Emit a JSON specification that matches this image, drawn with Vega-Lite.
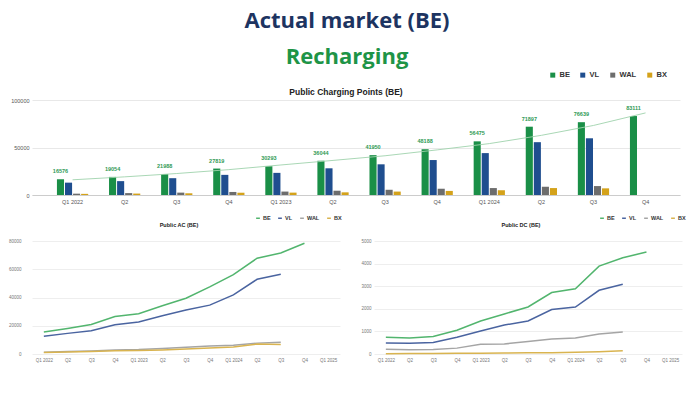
{
  "$schema": "https://vega.github.io/schema/vega-lite/v6.json",
  "background": "white",
  "padding": {"left": 8, "top": 10, "right": 10, "bottom": 4},
  "title": {
    "text": "Actual market (BE)",
    "subtitle": "Recharging",
    "font": "Open Sans",
    "fontSize": 22,
    "fontWeight": "bold",
    "color": "#1d3461",
    "subtitleFont": "Open Sans",
    "subtitleFontSize": 22,
    "subtitleFontWeight": "bold",
    "subtitleColor": "#1e9447",
    "subtitlePadding": 14,
    "anchor": "middle",
    "offset": 2
  },
  "datasets": {
    "bars": [
      {"q": "Q1 2022", "BE": 16576, "VL": 13000, "WAL": 1400, "BX": 1200},
      {"q": "Q2 2022", "BE": 19054, "VL": 14600, "WAL": 2000, "BX": 1500},
      {"q": "Q3 2022", "BE": 21988, "VL": 17700, "WAL": 2500, "BX": 1800},
      {"q": "Q4 2022", "BE": 27819, "VL": 21200, "WAL": 3200, "BX": 2400},
      {"q": "Q1 2023", "BE": 30293, "VL": 23300, "WAL": 3600, "BX": 2500},
      {"q": "Q2 2023", "BE": 36044, "VL": 28100, "WAL": 4500, "BX": 2800},
      {"q": "Q3 2023", "BE": 41950, "VL": 32300, "WAL": 5500, "BX": 3600},
      {"q": "Q4 2023", "BE": 48188, "VL": 36800, "WAL": 6600, "BX": 4300},
      {"q": "Q1 2024", "BE": 56475, "VL": 44100, "WAL": 7300, "BX": 5000},
      {"q": "Q2 2024", "BE": 71897, "VL": 55600, "WAL": 8700, "BX": 7300},
      {"q": "Q3 2024", "BE": 76639, "VL": 59700, "WAL": 9400, "BX": 7000},
      {"q": "Q4 2024", "BE": 83111}
    ],
    "trend": [
      {"q": "Q1 2022", "t": 16000},
      {"q": "Q2 2022", "t": 19100},
      {"q": "Q3 2022", "t": 22600},
      {"q": "Q4 2022", "t": 26700},
      {"q": "Q1 2023", "t": 31600},
      {"q": "Q2 2023", "t": 36400},
      {"q": "Q3 2023", "t": 41300},
      {"q": "Q4 2023", "t": 47500},
      {"q": "Q1 2024", "t": 54100},
      {"q": "Q2 2024", "t": 62800},
      {"q": "Q3 2024", "t": 73200},
      {"q": "Q4 2024", "t": 86400}
    ],
    "ac": [
      {"q": "Q1 2022", "BE": 15500, "VL": 12500, "WAL": 1200, "BX": 1100},
      {"q": "Q2 2022", "BE": 18100, "VL": 14600, "WAL": 1700, "BX": 1400},
      {"q": "Q3 2022", "BE": 20900, "VL": 16500, "WAL": 2200, "BX": 1700},
      {"q": "Q4 2022", "BE": 26600, "VL": 20700, "WAL": 2800, "BX": 2300},
      {"q": "Q1 2023", "BE": 28500, "VL": 22600, "WAL": 3100, "BX": 2500},
      {"q": "Q2 2023", "BE": 34100, "VL": 27100, "WAL": 3900, "BX": 2900},
      {"q": "Q3 2023", "BE": 39500, "VL": 31100, "WAL": 4800, "BX": 3500},
      {"q": "Q4 2023", "BE": 47500, "VL": 34600, "WAL": 5600, "BX": 4200},
      {"q": "Q1 2024", "BE": 56200, "VL": 41900, "WAL": 6200, "BX": 5000},
      {"q": "Q2 2024", "BE": 67800, "VL": 52900, "WAL": 7700, "BX": 7000},
      {"q": "Q3 2024", "BE": 71500, "VL": 56500, "WAL": 8300, "BX": 6800},
      {"q": "Q4 2024", "BE": 78400}
    ],
    "dc": [
      {"q": "Q1 2022", "BE": 740, "VL": 490, "WAL": 215, "BX": 15},
      {"q": "Q2 2022", "BE": 710, "VL": 480, "WAL": 185, "BX": 20},
      {"q": "Q3 2022", "BE": 770, "VL": 510, "WAL": 200, "BX": 25},
      {"q": "Q4 2022", "BE": 1050, "VL": 740, "WAL": 260, "BX": 30},
      {"q": "Q1 2023", "BE": 1460, "VL": 1015, "WAL": 430, "BX": 35},
      {"q": "Q2 2023", "BE": 1770, "VL": 1280, "WAL": 445, "BX": 40},
      {"q": "Q3 2023", "BE": 2080, "VL": 1460, "WAL": 550, "BX": 50},
      {"q": "Q4 2023", "BE": 2720, "VL": 1970, "WAL": 660, "BX": 60},
      {"q": "Q1 2024", "BE": 2890, "VL": 2080, "WAL": 710, "BX": 75},
      {"q": "Q2 2024", "BE": 3890, "VL": 2820, "WAL": 890, "BX": 100},
      {"q": "Q3 2024", "BE": 4260, "VL": 3090, "WAL": 970, "BX": 145},
      {"q": "Q4 2024", "BE": 4510}
    ]
  },
  "spacing": 10,
  "resolve": {"scale": {"color": "independent"}, "legend": {"color": "independent"}},
  "vconcat": [
    {
      "width": 648,
      "height": 95,
      "title": {"text": "Public Charging Points (BE)", "offset": -25, "dx": -10, "font": "Liberation Sans", "fontSize": 8.5, "fontWeight": "bold", "color": "#222222"},
      "layer": [
        {
          "data": {"name": "bars"},
          "transform": [
            {"fold": ["BE", "VL", "WAL", "BX"], "as": ["region", "value"]},
            {"filter": "isValid(datum.value)"}
          ],
          "mark": {"type": "bar"},
          "encoding": {
            "x": {"field": "q", "type": "nominal", "sort": null, "scale": {"paddingInner": 0.4, "paddingOuter": 0.42, "align": 0.57}, "title": null,
              "axis": {"labelAngle": 0, "labelFontSize": 5.5, "labelColor": "#555555", "labelPadding": 4, "ticks": false, "domainColor": "#cccccc",
                "labelExpr": "slice(datum.value, 0, 2) == 'Q1' ? datum.value : slice(datum.value, 0, 2)"}},
            "xOffset": {"field": "region", "type": "nominal", "sort": ["BE", "VL", "WAL", "BX"], "scale": {"domain": ["BE", "VL", "WAL", "BX"], "paddingInner": 0.12}},
            "y": {"field": "value", "type": "quantitative", "scale": {"domain": [0, 100000]}, "title": null,
              "axis": {"values": [0, 25000, 50000, 75000, 100000], "format": "d", "labelFontSize": 5.5, "labelColor": "#555555", "ticks": false, "domain": false, "gridColor": "#e8e8e8", "minExtent": 24, "labelPadding": 3}},
            "color": {"field": "region", "type": "nominal", "scale": {"domain": ["BE", "VL", "WAL", "BX"], "range": ["#1a8f47", "#1f4e8f", "#6d6d6d", "#d4a21a"]},
              "legend": {"orient": "none", "legendX": 517, "legendY": -29, "direction": "horizontal", "title": null, "symbolType": "square", "symbolSize": 25, "labelFontSize": 7.5, "labelFontWeight": "bold", "labelColor": "#333333", "columnPadding": 9, "labelOffset": 3}}
          }
        },
        {
          "data": {"name": "bars"},
          "mark": {"type": "text", "dy": -8, "fontSize": 5.5, "color": "#2f9a55", "fontWeight": "bold"},
          "encoding": {
            "x": {"field": "q", "type": "nominal", "sort": null},
            "xOffset": {"datum": "BE"},
            "y": {"field": "BE", "type": "quantitative"},
            "text": {"field": "BE", "type": "quantitative", "format": "d"}
          }
        },
        {
          "data": {"name": "trend"},
          "mark": {"type": "line", "color": "#9fd3ad", "strokeWidth": 0.9},
          "encoding": {
            "x": {"field": "q", "type": "nominal", "sort": null},
            "y": {"field": "t", "type": "quantitative"}
          }
        }
      ]
    },
    {
      "spacing": 17,
      "resolve": {"scale": {"color": "independent"}, "legend": {"color": "independent"}},
      "hconcat": [
        {
          "width": 308,
          "height": 113,
          "title": {"text": "Public AC (BE)", "offset": -13, "dx": -7, "font": "Liberation Sans", "fontSize": 5.5, "fontWeight": "bold", "color": "#222222"},
          "data": {"name": "ac"},
          "transform": [
            {"fold": ["BE", "VL", "WAL", "BX"], "as": ["region", "value"]},
            {"filter": "isValid(datum.value)"}
          ],
          "mark": {"type": "line", "strokeWidth": 1.5},
          "encoding": {
            "x": {"field": "q", "type": "nominal", "title": null,
              "scale": {"domain": ["Q1 2022", "Q2 2022", "Q3 2022", "Q4 2022", "Q1 2023", "Q2 2023", "Q3 2023", "Q4 2023", "Q1 2024", "Q2 2024", "Q3 2024", "Q4 2024", "Q1 2025"]},
              "axis": {"labelAngle": 0, "labelFontSize": 4.5, "labelColor": "#777777", "labelPadding": 3, "ticks": false, "domain": false,
                "labelExpr": "slice(datum.value, 0, 2) == 'Q1' ? datum.value : slice(datum.value, 0, 2)"}},
            "y": {"field": "value", "type": "quantitative", "scale": {"domain": [0, 80000]}, "title": null,
              "axis": {"values": [0, 20000, 40000, 60000, 80000], "format": "d", "labelFontSize": 4.5, "labelColor": "#777777", "ticks": false, "domain": false, "gridColor": "#eeeeee", "minExtent": 24, "labelPadding": 11}},
            "color": {"field": "region", "type": "nominal", "sort": ["BE", "VL", "WAL", "BX"], "scale": {"domain": ["BE", "VL", "WAL", "BX"], "range": ["#52b56e", "#4a64a0", "#a5a5a5", "#d9b450"]},
              "legend": {"orient": "none", "legendX": 223, "legendY": -26, "direction": "horizontal", "title": null, "symbolType": "stroke", "symbolSize": 14, "symbolStrokeWidth": 1.5, "labelFontSize": 5.5, "labelFontWeight": "bold", "labelColor": "#333333", "columnPadding": 4, "labelOffset": 2}}
          }
        },
        {
          "width": 308,
          "height": 113,
          "title": {"text": "Public DC (BE)", "offset": -13, "dx": -7, "font": "Liberation Sans", "fontSize": 5.5, "fontWeight": "bold", "color": "#222222"},
          "data": {"name": "dc"},
          "transform": [
            {"fold": ["BE", "VL", "WAL", "BX"], "as": ["region", "value"]},
            {"filter": "isValid(datum.value)"}
          ],
          "mark": {"type": "line", "strokeWidth": 1.5},
          "encoding": {
            "x": {"field": "q", "type": "nominal", "title": null,
              "scale": {"domain": ["Q1 2022", "Q2 2022", "Q3 2022", "Q4 2022", "Q1 2023", "Q2 2023", "Q3 2023", "Q4 2023", "Q1 2024", "Q2 2024", "Q3 2024", "Q4 2024", "Q1 2025"]},
              "axis": {"labelAngle": 0, "labelFontSize": 4.5, "labelColor": "#777777", "labelPadding": 3, "ticks": false, "domain": false,
                "labelExpr": "slice(datum.value, 0, 2) == 'Q1' ? datum.value : slice(datum.value, 0, 2)"}},
            "y": {"field": "value", "type": "quantitative", "scale": {"domain": [0, 5000]}, "title": null,
              "axis": {"values": [0, 1000, 2000, 3000, 4000, 5000], "format": "d", "labelFontSize": 4.5, "labelColor": "#777777", "ticks": false, "domain": false, "gridColor": "#eeeeee", "minExtent": 15, "labelPadding": 3}},
            "color": {"field": "region", "type": "nominal", "sort": ["BE", "VL", "WAL", "BX"], "scale": {"domain": ["BE", "VL", "WAL", "BX"], "range": ["#52b56e", "#4a64a0", "#a5a5a5", "#d9b450"]},
              "legend": {"orient": "none", "legendX": 225, "legendY": -26, "direction": "horizontal", "title": null, "symbolType": "stroke", "symbolSize": 14, "symbolStrokeWidth": 1.5, "labelFontSize": 5.5, "labelFontWeight": "bold", "labelColor": "#333333", "columnPadding": 4, "labelOffset": 2}}
          }
        }
      ]
    }
  ],
  "config": {
    "view": {"stroke": null},
    "font": "Liberation Sans"
  }
}
